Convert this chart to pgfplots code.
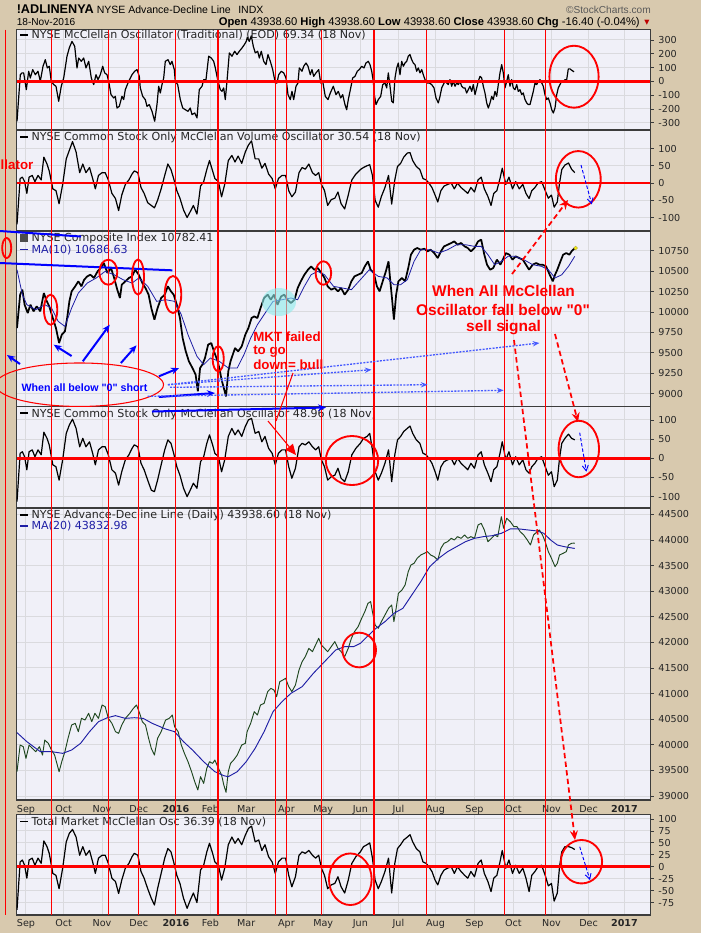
\documentclass[border=0pt]{standalone}
\usepackage{pgfplots}
\pgfplotsset{compat=1.18}
\usepackage{pgfplotstable}
\usepackage{fontspec}
\setmainfont{DejaVu Sans}
\newfontfamily\arial{Liberation Sans}
\usetikzlibrary{arrows.meta}
\definecolor{tanbg}{RGB}{216,201,174}
\definecolor{plotbg}{RGB}{240,240,248}
\definecolor{gridgray}{RGB}{218,218,222}
\definecolor{framegray}{RGB}{60,60,60}
\definecolor{maBlue}{RGB}{30,30,165}
\definecolor{adGreen}{RGB}{30,70,30}
\definecolor{annBlue}{RGB}{0,0,255}
\definecolor{dotBlue}{RGB}{70,90,255}
\definecolor{cyanfill}{RGB}{140,235,235}
\newcommand\ttl{\fontsize{8.3}{9}\selectfont}
\newcommand\leg[1]{\textcolor{#1}{\rule[0.25em]{5.8pt}{1.4pt}}\hspace{2.6pt}}

\pgfplotstableread{
x v
38.0 -290
45.4 48
49.1 61
52.9 61
58.8 -61
64.1 73
67.7 24
73.1 85
78.9 48
84.9 73
90.0 0
96.1 109
101.2 157
105.7 97
110.1 109
114.6 0
120.0 -24
125.1 -36
131.1 -145
136.9 -36
142.3 24
149.7 182
154.8 242
160.8 290
166.9 254
172.0 97
175.8 169
181.6 145
187.0 169
192.1 97
198.2 145
204.0 24
209.3 -24
214.5 48
218.9 12
224.1 48
229.4 109
233.9 61
239.0 48
242.8 0
248.0 -97
254.0 -121
257.6 -109
261.4 -194
266.5 -182
272.5 -109
276.3 -133
279.9 -61
287.5 0
294.9 48
300.9 73
306.1 85
311.2 36
313.4 -48
318.8 -109
324.6 -133
328.4 -182
333.5 -169
339.6 -218
345.6 -290
350.7 -169
354.5 -36
358.1 -85
361.9 -24
365.7 24
369.3 145
375.3 157
380.5 121
384.2 145
389.4 85
391.6 0
397.0 -24
402.8 -133
408.2 -194
414.0 -206
420.0 -218
425.1 -194
428.9 -242
435.0 -230
440.1 -266
445.2 -61
451.3 -36
455.1 12
460.2 12
466.2 182
472.0 169
477.4 145
481.0 97
487.0 0
492.2 -61
495.9 -73
499.7 -48
503.3 -133
507.1 0
512.3 206
518.3 182
524.3 218
529.5 194
534.6 218
540.6 242
545.8 266
550.2 290
552.5 319
556.9 290
561.4 330
565.9 254
570.3 206
575.7 218
579.3 169
583.7 218
589.1 145
594.2 121
598.7 194
603.9 145
609.2 85
615.0 -12
618.8 -12
622.6 48
628.4 73
633.8 61
638.9 24
643.4 -97
648.5 -133
652.3 -73
656.1 -133
661.3 -36
665.7 -12
668.6 97
674.7 73
678.5 109
683.6 133
688.1 109
693.2 48
697.0 85
700.8 36
705.9 61
712.0 85
716.4 -12
720.9 0
726.7 -109
732.8 -133
737.9 -85
744.6 -36
750.6 -97
755.8 -73
761.1 -121
765.6 -97
770.7 -169
774.5 -206
778.1 -133
783.5 -48
787.9 24
793.1 36
798.2 73
802.7 85
808.0 109
813.2 97
817.6 133
822.8 145
826.6 121
830.4 73
834.0 0
836.2 -97
840.0 -169
845.1 -133
850.5 -109
855.0 -24
860.1 -12
863.9 -48
867.5 61
871.3 -36
875.1 -145
878.6 -157
882.4 24
886.2 97
889.8 133
893.6 48
897.4 145
901.0 109
904.8 133
908.6 145
912.1 182
915.9 194
919.7 157
923.3 133
927.1 121
930.9 73
934.5 97
938.3 61
942.1 85
945.7 48
949.5 12
953.2 -12
959.1 -12
964.4 -24
969.6 -48
974.0 -121
979.2 -157
983.0 -109
986.8 -48
990.3 -24
994.1 0
997.9 -12
1001.5 -24
1005.3 12
1009.1 -36
1012.7 0
1016.5 -36
1020.3 -12
1023.8 -24
1027.6 0
1031.4 -36
1035.0 -48
1038.8 -48
1042.6 -85
1046.2 -61
1050.0 -36
1053.8 -73
1057.3 -24
1061.2 -97
1064.9 -48
1068.5 0
1072.3 36
1076.1 24
1079.7 -36
1083.5 -85
1087.3 -157
1090.9 -194
1094.7 -157
1098.5 -109
1102.0 -133
1105.8 -73
1109.6 -109
1113.2 -24
1117.0 61
1120.8 121
1124.4 61
1128.2 -48
1132.0 0
1135.5 48
1139.3 -36
1143.1 12
1146.7 -48
1150.5 -61
1154.3 -24
1157.9 -73
1161.7 -61
1165.5 -97
1169.0 -85
1172.9 -133
1176.6 -157
1180.2 -169
1184.0 -169
1187.8 -121
1191.4 -73
1195.2 -12
1199.0 -24
1202.6 0
1206.4 12
1210.2 -12
1213.7 -36
1217.5 -97
1221.3 -133
1224.9 -121
1228.7 -157
1232.5 -206
1236.1 -230
1239.9 -194
1243.7 -97
1247.2 -48
1251.0 -24
1254.8 0
1258.4 -5
1262.2 12
1266.0 12
1269.6 90
1273.4 90
1277.2 80
1282.3 69
}\mco

\pgfplotstableread{
x vol cs tm
38 -120 -113 -90
45 13 13 10
50 17 17 14
55 4 4 3
60 -30 -30 -24
65 17 17 14
72 22 22 18
78 4 4 3
85 22 22 18
92 9 9 7
98 75 68 54
105 55 52 42
110 35 35 28
118 -17 -17 -14
125 -22 -22 -18
132 -60 -57 -46
140 -4 -4 -3
148 70 65 52
155 95 87 70
162 120 102 78
170 90 78 62
178 30 30 24
185 55 52 42
192 30 30 24
200 45 43 34
207 13 13 10
213 -17 -17 -14
220 22 22 18
228 30 30 24
235 30 30 24
242 9 9 7
250 -30 -30 -24
258 -45 -39 -31
265 -80 -70 -56
272 -35 -35 -28
280 -4 -4 -3
288 9 9 7
295 26 26 21
300 35 35 28
308 30 30 24
315 -13 -13 -10
322 -30 -30 -24
330 -57 -57 -46
338 -65 -83 -66
345 -72 -87 -80
352 -50 -57 -46
360 -17 -17 -14
368 22 22 18
375 55 48 38
382 39 39 31
388 13 13 10
395 -22 -22 -18
402 -44 -44 -35
410 -78 -78 -66
418 -100 -100 -87
425 -83 -83 -70
432 -65 -65 -55
440 -90 -78 -75
448 -9 -9 -7
455 4 4 3
462 39 39 31
468 65 61 49
475 35 35 28
480 13 13 10
488 4 4 3
495 -40 -35 -28
502 -4 -4 -3
510 65 57 46
518 80 78 62
525 61 61 49
532 78 74 59
540 57 57 46
548 90 83 66
555 110 100 80
562 122 104 85
570 70 65 52
578 70 70 56
585 43 43 34
592 57 57 46
600 26 26 21
608 13 13 10
615 -17 -17 -14
622 13 13 10
630 22 22 18
638 22 22 18
645 -22 -22 -18
652 -40 -52 -42
660 -26 -26 -21
668 30 30 24
675 45 39 31
682 40 35 28
690 55 43 34
698 30 30 24
705 22 22 18
712 30 30 24
718 -4 -4 -3
725 -22 -22 -18
732 -65 -57 -46
740 -48 -48 -38
748 -44 -44 -35
755 -26 -26 -21
762 -60 -52 -42
770 -75 -61 -55
778 -35 -35 -28
786 9 9 7
795 26 26 21
805 39 39 31
812 45 52 42
820 50 57 46
826 53 65 50
832 22 22 18
838 -50 -35 -28
845 -70 -57 -46
852 -39 -39 -31
860 -13 -13 -10
868 22 22 18
875 -61 -61 -55
882 9 9 7
888 48 48 38
895 57 57 46
902 75 70 56
910 87 78 62
916 88 84 67
922 65 65 52
930 48 48 38
938 39 39 31
945 13 13 10
952 9 9 7
958 0 0 0
965 -13 -13 -10
972 -35 -35 -28
978 -55 -57 -38
985 -22 -22 -18
992 -9 -9 -7
1000 -4 -4 -3
1008 0 0 0
1015 -17 -17 -14
1022 0 0 0
1030 -13 -13 -10
1038 -22 -22 -18
1045 -30 -30 -24
1052 -13 -13 -10
1060 -26 -26 -21
1068 9 9 7
1075 17 17 14
1082 -17 -17 -14
1090 -39 -39 -31
1097 -65 -61 -52
1103 -30 -30 -24
1110 -22 -22 -18
1117 13 13 10
1122 43 43 34
1130 -4 -4 -3
1137 17 17 14
1145 -17 -17 -14
1152 4 4 3
1160 -17 -17 -14
1168 -4 -4 -3
1175 -30 -30 -24
1182 -45 -39 -52
1188 -22 -22 -18
1195 -13 -13 -10
1202 0 0 0
1210 4 4 3
1218 -22 -22 -18
1225 -44 -44 -40
1232 -35 -35 -35
1238 -70 -74 -72
1245 -55 -57 -55
1250 0 0 0
1255 39 39 31
1262 52 52 42
1270 58 63 42
1277 40 52 40
1284 30 48 36
}\osc

\pgfplotstableread{
x c
38 9804
45 10212
50 10273
55 10089
62 9987
68 10089
75 10008
82 10069
90 10008
98 10232
103 10150
110 10069
118 9926
125 9804
132 9620
138 9722
145 9763
150 9926
155 10130
160 10252
168 10314
175 10375
182 10314
188 10395
195 10436
202 10456
210 10416
218 10497
225 10538
232 10599
240 10477
248 10538
255 10416
262 10273
268 10171
272 10334
280 10375
288 10416
295 10436
302 10517
310 10456
318 10354
325 10293
332 10212
338 10048
345 9906
352 10048
360 10171
368 10212
375 10314
382 10252
388 10212
395 10089
402 9926
408 9681
415 9518
422 9396
430 9314
437 9233
442 9029
447 9314
452 9355
458 9437
465 9600
472 9620
478 9518
485 9416
490 9314
495 9171
500 9069
505 8967
510 9273
515 9396
520 9477
525 9559
532 9518
540 9579
548 9722
555 9804
562 9926
568 9946
575 9926
582 10048
590 10171
598 10212
605 10150
612 10212
620 10089
628 10191
635 10212
642 10150
650 10110
658 10150
665 10293
672 10375
680 10456
688 10517
695 10558
702 10517
710 10538
718 10477
725 10416
732 10314
740 10273
748 10293
755 10252
762 10293
770 10212
778 10273
785 10375
792 10436
800 10456
808 10477
815 10558
822 10619
828 10517
835 10477
842 10314
848 10252
855 10375
862 10497
868 10619
872 10375
876 10150
880 9906
885 10212
890 10375
898 10416
905 10375
912 10538
918 10701
925 10762
932 10783
940 10762
948 10774
955 10742
962 10762
970 10721
978 10660
985 10742
992 10803
1000 10823
1008 10844
1015 10864
1022 10823
1030 10844
1038 10803
1045 10783
1052 10742
1060 10783
1068 10864
1075 10885
1082 10701
1088 10579
1095 10517
1102 10538
1110 10640
1118 10579
1125 10660
1130 10721
1138 10701
1145 10640
1152 10681
1160 10660
1168 10640
1175 10579
1182 10517
1190 10579
1198 10599
1205 10579
1212 10579
1220 10558
1228 10456
1235 10375
1240 10456
1245 10517
1252 10619
1258 10701
1265 10721
1272 10701
1278 10750
1284 10782
}\nya

\pgfplotstableread{
x m
38 10517
50 10212
60 10089
80 10028
100 10089
115 10048
130 9885
145 9824
160 10048
175 10232
195 10354
215 10416
235 10497
255 10456
275 10395
295 10354
310 10416
330 10314
350 10130
370 10150
390 10130
405 9967
420 9722
440 9457
455 9355
470 9437
490 9396
510 9314
530 9314
545 9477
560 9681
575 9844
590 9967
610 10130
630 10150
650 10171
665 10150
680 10314
695 10456
710 10497
725 10456
745 10314
765 10293
785 10273
805 10395
825 10517
845 10436
865 10416
880 10334
895 10334
910 10395
925 10619
940 10762
960 10762
980 10721
1000 10762
1020 10823
1040 10823
1060 10803
1075 10803
1090 10701
1105 10579
1120 10619
1135 10681
1150 10681
1170 10640
1190 10579
1210 10558
1225 10517
1240 10416
1255 10456
1270 10558
1284 10681
}\nyama

\pgfplotstableread{
x ad
38 39475
45 39996
52 39963
58 39735
65 39996
72 39931
80 39866
88 39963
95 39800
100 40093
108 40028
115 39898
122 39800
132 39475
138 39670
145 39866
152 40126
160 40386
168 40419
175 40256
182 40516
190 40484
198 40614
205 40451
212 40614
220 40516
228 40777
235 40744
242 40516
250 40419
258 40256
265 40224
272 40386
280 40516
290 40614
298 40712
305 40777
312 40614
318 40451
325 40386
332 40126
338 39931
345 39800
352 40126
360 40256
370 40484
378 40516
385 40581
390 40354
398 40256
405 39996
412 39833
420 39670
428 39475
435 39280
442 39117
448 39378
455 39247
462 39540
468 39670
475 39637
480 39703
488 39540
495 39410
500 39215
505 39072
510 39475
515 39637
522 39703
530 39800
540 39996
548 40028
552 40256
560 40419
568 40647
575 40581
582 40777
590 40809
598 41037
605 41102
612 41070
618 40940
625 41232
632 41265
638 41298
645 41135
652 41037
660 41167
668 41460
675 41623
682 41721
690 41883
698 41818
705 41948
712 42079
718 41948
725 41883
732 41818
740 41916
748 42014
755 41883
762 41818
770 41721
778 41883
785 42079
792 42209
800 42306
808 42469
815 42599
822 42762
828 42795
832 42599
838 42339
845 42274
852 42404
860 42534
868 42664
875 42730
880 42404
885 42664
890 42957
898 43022
905 43120
912 43380
918 43511
925 43543
932 43641
940 43706
948 43738
955 43771
962 43706
970 43673
978 43608
985 43836
992 43934
1000 43966
1008 44031
1015 43999
1022 44064
1030 44031
1038 44096
1045 44031
1052 44064
1060 44031
1068 44292
1075 44324
1082 44194
1090 43966
1098 44031
1105 44096
1112 44064
1120 44454
1125 44227
1132 44422
1140 44357
1148 44259
1155 44259
1162 44162
1170 44096
1178 43999
1185 43901
1192 44096
1200 44162
1205 44194
1212 44096
1218 43966
1225 43771
1232 43641
1240 43478
1245 43543
1250 43706
1258 43738
1265 43771
1270 43901
1277 43934
1284 43938
}\adl

\pgfplotstableread{
x m
38 40237
60 40061
90 39866
115 39866
140 39833
160 39898
180 40028
200 40256
220 40451
240 40529
258 40569
280 40516
300 40529
320 40516
340 40419
370 40308
390 40256
410 40061
430 39898
455 39670
480 39475
500 39397
510 39377
530 39475
550 39670
570 39931
590 40256
610 40647
630 40842
650 41005
675 41135
700 41395
725 41623
750 41851
770 41916
790 41916
805 41981
820 42111
840 42274
860 42404
880 42567
900 42664
920 42925
940 43185
960 43478
980 43641
1000 43771
1020 43869
1040 43966
1060 44031
1080 44064
1100 44083
1120 44129
1140 44214
1160 44214
1180 44194
1200 44175
1215 44129
1230 43999
1245 43901
1260 43869
1284 43833
}\adlma

\pgfplotsset{
  panel/.style={
    scale only axis, width=475.38pt, anchor=north west,
    xmin=37, xmax=1453,
    axis background/.style={fill=plotbg},
    axis line style={draw=framegray, line width=1.1pt},
    xtick={58,142,228,310,393,470,550,640,722,805,890,973,1060,1147,1232,1315,1395},
    xticklabels={},
    xmajorgrids, ymajorgrids,
    major grid style={draw=gridgray, line width=0.75pt},
    ytick pos=right, yticklabel pos=right,
    scaled y ticks=false, scaled x ticks=false,
    xtick style={draw=none},
    ytick style={draw=framegray, line width=0.5pt},
    tick align=outside, major tick length=2.5pt,
    yticklabel style={font=\fontsize{7.2}{8}\selectfont, text=black!85},
    xticklabel style={font=\fontsize{7.2}{8}\selectfont, text=black!85},
  },
  months/.style={xticklabels={Sep,Oct,Nov,Dec,\textbf{2016},Feb,Mar,Apr,May,Jun,Jul,Aug,Sep,Oct,Nov,Dec,\textbf{2017}}},
  oscline/.style={black, line width=0.9pt, line join=round},
  zeroline/.style={red, line width=1.9pt},
}

\begin{document}
\begin{tikzpicture}
\useasboundingbox (0pt,0pt) rectangle (525.75pt,-699.75pt);
\fill[tanbg] (0pt,0pt) rectangle (525.75pt,-699.75pt);

% Panel 1
\begin{axis}[panel, at={(12.42pt,-22.125pt)}, height=75pt, ymin=-350, ymax=376,
  ytick={-300,-200,-100,0,100,200,300}, yticklabels={-300,-200,-100,0,100,200,300}]
\addplot[oscline] table[x=x,y=v] {\mco};
\addplot[zeroline] coordinates {(37,0) (1453,0)};
\end{axis}

% Panel 2
\begin{axis}[panel, at={(12.42pt,-97.5pt)}, height=75.75pt, ymin=-139, ymax=153.6,
  ytick={-100,-50,0,50,100}, yticklabels={-100,-50,0,50,100}]
\addplot[oscline] table[x=x,y=vol] {\osc};
\addplot[zeroline] coordinates {(37,0) (1453,0)};
\end{axis}

% Panel 3
\begin{axis}[panel, at={(12.42pt,-173.25pt)}, height=131.625pt, ymin=8843, ymax=10991,
  ytick={9000,9250,9500,9750,10000,10250,10500,10750},
  yticklabels={9000,9250,9500,9750,10000,10250,10500,10750}]
\addplot[black, line width=1.3pt, line join=bevel] table[x=x,y=c] {\nya};
\addplot[maBlue, line width=0.6pt] table[x=x,y=m] {\nyama};
\addplot[only marks, mark=*, mark size=1.4pt, fill=yellow, draw=yellow!70!black] coordinates {(1286,10782)};
\end{axis}

% Panel 4
\begin{axis}[panel, at={(12.42pt,-304.875pt)}, height=76.125pt, ymin=-129.6, ymax=135,
  ytick={-100,-50,0,50,100}, yticklabels={-100,-50,0,50,100}]
\addplot[oscline] table[x=x,y=cs] {\osc};
\addplot[zeroline] coordinates {(37,0) (1453,0)};
\end{axis}

% Panel 5
\begin{axis}[panel, months, at={(12.42pt,-381pt)}, height=219pt, ymin=38922, ymax=44623,
  ytick={39000,39500,40000,40500,41000,41500,42000,42500,43000,43500,44000,44500},
  yticklabels={39000,39500,40000,40500,41000,41500,42000,42500,43000,43500,44000,44500},
  xticklabel style={yshift=2pt}]
\addplot[adGreen, line width=0.7pt, line join=round] table[x=x,y=ad] {\adl};
\addplot[maBlue, line width=0.7pt] table[x=x,y=m] {\adlma};
\end{axis}

% Panel 6
\begin{axis}[panel, months, at={(12.42pt,-610.875pt)}, height=75.375pt, ymin=-101, ymax=109.2,
  ytick={-75,-50,-25,0,25,50,75,100}, yticklabels={-75,-50,-25,0,25,50,75,100},
  xticklabel style={yshift=2.6pt}]
\addplot[oscline] table[x=x,y=tm] {\osc};
\addplot[zeroline] coordinates {(37,0) (1453,0)};
\end{axis}

% Overlay (pixel coordinates of the page)
\begin{axis}[at={(0pt,0pt)}, anchor=north west, scale only axis, width=525.75pt, height=699.75pt,
  xmin=0, xmax=701, ymin=0, ymax=933, y dir=reverse, hide axis, clip=false]
% header
\node[anchor=west, inner sep=0pt] at (axis cs:16.5,9.5) {\arial\bfseries\fontsize{9.5}{10}\selectfont !ADLINENYA};
\node[anchor=west, inner sep=0pt] at (axis cs:96.5,9.5) {\arial\fontsize{7.9}{9}\selectfont NYSE Advance-Decline Line};
\node[anchor=west, inner sep=0pt] at (axis cs:238,9.5) {\arial\fontsize{7.9}{9}\selectfont INDX};
\node[anchor=east, inner sep=0pt, text=black!65] at (axis cs:651,9.7) {\arial\fontsize{7.6}{9}\selectfont ©StockCharts.com};
\node[anchor=west, inner sep=0pt] at (axis cs:16.5,22.3) {\arial\fontsize{7.6}{9}\selectfont 18-Nov-2016};
\node[anchor=east, inner sep=0pt] at (axis cs:640,22.3) {\arial\fontsize{8.4}{10}\selectfont \textbf{Open} 43938.60 \textbf{High} 43938.60 \textbf{Low} 43938.60 \textbf{Close} 43938.60 \textbf{Chg} -16.40 (-0.04\%)};
\node[anchor=center, inner sep=0pt, text=red!75!black] at (axis cs:647,23) {\fontsize{5}{6}\selectfont ▼};
% panel titles
\node[anchor=west, inner sep=0pt, text=black!85] at (axis cs:20.1,35) {\ttl\leg{black}NYSE McClellan Oscillator (Traditional) (EOD) 69.34 (18 Nov)};
\node[anchor=west, inner sep=0pt, text=black!85] at (axis cs:20.1,137.3) {\ttl\leg{black}NYSE Common Stock Only McClellan Volume Oscillator 30.54 (18 Nov)};
\node[anchor=west, inner sep=0pt, text=black!85] at (axis cs:20.1,238.7) {\ttl\textcolor{black!70}{\rule[-0.5pt]{5.8pt}{6.5pt}}\hspace{2.6pt}NYSE Composite Index 10782.41};
\node[anchor=west, inner sep=0pt, text=maBlue] at (axis cs:20.1,249.7) {\ttl\leg{maBlue}MA(10) 10686.63};
\node[anchor=west, inner sep=0pt, text=black!85] at (axis cs:20.1,414) {\ttl\leg{black}NYSE Common Stock Only McClellan Oscillator 48.96 (18 Nov)};
\node[anchor=west, inner sep=0pt, text=black!85] at (axis cs:20.1,515.7) {\ttl\leg{black}NYSE Advance-Decline Line (Daily) 43938.60 (18 Nov)};
\node[anchor=west, inner sep=0pt, text=maBlue] at (axis cs:20.1,526.3) {\ttl\leg{maBlue}MA(20) 43832.98};
\node[anchor=west, inner sep=0pt, text=black!85] at (axis cs:20.1,821.7) {\ttl\leg{black}Total Market McClellan Osc 36.39 (18 Nov)};
% red vertical lines
\pgfplotsinvokeforeach{5.4,51.5,108.8,138.8,218.0,275.3,286.9,321.4,426.6,504.5,545.2}{
  \draw[red, line width=0.8pt] (axis cs:#1,29.5) -- (axis cs:#1,915);}
\pgfplotsinvokeforeach{175.5,373.8}{
  \draw[red, line width=1.3pt] (axis cs:#1,29.5) -- (axis cs:#1,915);}
% blue trend lines
\draw[annBlue, line width=1.5pt] (axis cs:0,231) -- (axis cs:81,236.5);
\draw[annBlue, line width=1.5pt] (axis cs:0,263) -- (axis cs:172.3,270.3);
% cyan blob
\fill[cyanfill, opacity=0.6] (axis cs:279,302) ellipse [x radius=12.75pt, y radius=10.5pt];
% red ellipses
\begin{scope}[red, line width=1.4pt]
\draw (axis cs:574,76.7) ellipse [x radius=18.45pt, y radius=23.25pt];
\draw (axis cs:578.3,179.3) ellipse [x radius=16.8pt, y radius=21.2pt];
\draw (axis cs:6.7,248) ellipse [x radius=3.4pt, y radius=7.5pt];
\draw (axis cs:50.6,309.7) ellipse [x radius=5pt, y radius=11.25pt];
\draw (axis cs:108.3,272.2) ellipse [x radius=6.75pt, y radius=9.4pt];
\draw (axis cs:138,277) ellipse [x radius=4.5pt, y radius=13.1pt];
\draw (axis cs:173,294.5) ellipse [x radius=6.2pt, y radius=13.9pt];
\draw (axis cs:218.2,358.8) ellipse [x radius=4.2pt, y radius=9.4pt];
\draw (axis cs:323.4,273) ellipse [x radius=5.85pt, y radius=8.8pt];
\draw (axis cs:578.8,449) ellipse [x radius=15.15pt, y radius=21.2pt];
\draw (axis cs:352,460.5) ellipse [x radius=19.65pt, y radius=18.4pt];
\draw (axis cs:359.2,650) ellipse [x radius=12.6pt, y radius=13pt];
\draw (axis cs:350.3,879.2) ellipse [x radius=16pt, y radius=19.35pt];
\draw (axis cs:581.5,861.7) ellipse [x radius=15.45pt, y radius=16.3pt];
\end{scope}
\draw[red, line width=0.8pt] (axis cs:79.5,384.7) ellipse [x radius=63pt, y radius=16.3pt];
% blue solid arrows
\begin{scope}[annBlue, line width=1.5pt, -{Stealth[length=6pt,width=5pt]}]
\draw (axis cs:20,364) -- (axis cs:7,355);
\draw (axis cs:71.6,356) -- (axis cs:53.7,344.7);
\draw (axis cs:82.8,361.3) -- (axis cs:109.7,324.7);
\draw (axis cs:120.9,363) -- (axis cs:136.5,345.3);
\draw (axis cs:158.9,376.3) -- (axis cs:179,368);
\draw (axis cs:158.9,397) -- (axis cs:215,393);
\draw (axis cs:152,411.5) -- (axis cs:326,407.5);
\end{scope}
% blue dotted arrows
\begin{scope}[dotBlue, line width=1pt, dash pattern=on 1.5pt off 1pt, -{Stealth[length=5pt,width=4pt]}]
\draw (axis cs:167.9,384.7) -- (axis cs:371.5,369.7);
\draw (axis cs:167.9,384.7) -- (axis cs:539.4,343);
\draw (axis cs:170,387.3) -- (axis cs:427.5,384.7);
\draw (axis cs:147.7,396.3) -- (axis cs:503.6,390.3);
\end{scope}
% red dashed arrows
\begin{scope}[red, line width=1.3pt, dash pattern=on 4pt off 2.5pt, -{Stealth[length=7pt,width=6pt]}]
\draw (axis cs:512,274) -- (axis cs:568,200);
\draw (axis cs:514,340) -- (axis cs:575,840);
\draw (axis cs:555,334) -- (axis cs:578,422);
\end{scope}
% blue thin dashed arrows
\begin{scope}[annBlue, line width=0.7pt, dash pattern=on 2.5pt off 1.5pt, -{Straight Barb[length=4pt,width=4.5pt]}]
\draw (axis cs:581,165) -- (axis cs:591.8,204.3);
\draw (axis cs:579.7,432.7) -- (axis cs:586.4,471.7);
\draw (axis cs:579.7,846.7) -- (axis cs:590,880);
\end{scope}
% red thin lines from MKT text
\draw[red, line width=0.8pt] (axis cs:293,373) -- (axis cs:276,421);
\draw[red, line width=0.8pt, -{Triangle[length=8pt,width=7pt]}] (axis cs:268,421) -- (axis cs:296,455);
% texts
\node[red, anchor=center, inner sep=0pt] at (axis cs:503.5,290.7) {\arial\bfseries\fontsize{11.6}{13}\selectfont When All McClellan};
\node[red, anchor=center, inner sep=0pt] at (axis cs:503,309.7) {\arial\bfseries\fontsize{11.6}{13}\selectfont Oscillator fall below "0"};
\node[red, anchor=center, inner sep=0pt] at (axis cs:503.6,328) {\arial\bfseries\fontsize{11.6}{13}\selectfont sell signal};
\node[red, anchor=west, inner sep=0pt] at (axis cs:253,336.3) {\arial\bfseries\fontsize{10}{11}\selectfont MKT failed};
\node[red, anchor=west, inner sep=0pt] at (axis cs:253,351.3) {\arial\bfseries\fontsize{10}{11}\selectfont to go};
\node[red, anchor=west, inner sep=0pt] at (axis cs:253,364.7) {\arial\bfseries\fontsize{10}{11}\selectfont down= bull};
\node[annBlue, anchor=center, inner sep=0pt] at (axis cs:84.5,387.3) {\arial\bfseries\fontsize{8}{9}\selectfont When all below "0" short};
\node[red, anchor=east, inner sep=0pt] at (axis cs:33.6,165) {\arial\bfseries\fontsize{10}{11}\selectfont llator};
\end{axis}
\end{tikzpicture}
\end{document}
